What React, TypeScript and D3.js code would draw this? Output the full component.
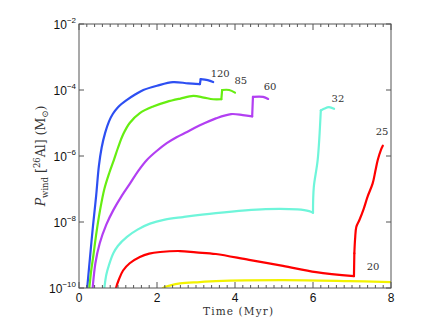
import React, { useEffect, useRef } from "react";
import * as d3 from "d3";

// [time (Myr), log10 of wind-ejected 26Al mass (Msun)].
// each track is a list of pieces; 2-point pieces are the sharp jumps
const m120 = [
  [[0.19, -10.3], [0.21, -10], [0.28, -9.1], [0.36, -8.1], [0.44, -7.2], [0.51, -6.3], [0.58, -5.75],
    [0.67, -5.3], [0.77, -4.95], [0.87, -4.72], [1.0, -4.52], [1.23, -4.3], [1.45, -4.13], [1.65, -4.0],
    [2.0, -3.87], [2.41, -3.76], [2.8, -3.8], [3.1, -3.82]],
  [[3.1, -3.82], [3.12, -3.67]],
  [[3.12, -3.67], [3.3, -3.7], [3.44, -3.76]],
];
const m85 = [
  [[0.24, -10.3], [0.265, -10], [0.31, -9.5], [0.37, -9.0], [0.45, -8.3], [0.54, -7.64], [0.65, -7.0],
    [0.78, -6.5], [0.9, -6.1], [1.0, -5.75], [1.13, -5.35], [1.3, -5.0], [1.56, -4.7], [1.9, -4.5],
    [2.25, -4.36], [2.6, -4.26], [2.93, -4.18], [3.2, -4.23], [3.44, -4.28], [3.65, -4.28]],
  [[3.65, -4.28], [3.67, -4.0]],
  [[3.67, -4.0], [3.85, -4.0], [4.0, -4.08]],
];
const m60 = [
  [[0.33, -10.3], [0.35, -10], [0.42, -9.25], [0.53, -8.65], [0.7, -8.08], [0.88, -7.64], [1.1, -7.2],
    [1.31, -6.83], [1.52, -6.45], [1.74, -6.12], [2.0, -5.84], [2.25, -5.61], [2.5, -5.43],
    [2.77, -5.27], [3.1, -5.07], [3.51, -4.86], [3.9, -4.73], [4.2, -4.76], [4.44, -4.8]],
  [[4.44, -4.8], [4.46, -4.21]],
  [[4.46, -4.21], [4.72, -4.21], [4.85, -4.27]],
];
const m32 = [
  [[0.62, -10.3], [0.65, -10], [0.7, -9.6], [0.77, -9.3], [0.88, -8.95], [1.0, -8.72], [1.23, -8.45],
    [1.5, -8.23], [1.82, -8.05], [2.2, -7.93], [2.67, -7.85], [3.51, -7.73], [4.79, -7.61],
    [5.6, -7.62], [5.9, -7.67], [6.0, -7.72]],
  [[6.0, -7.72], [6.02, -6.95], [6.12, -6.12], [6.2, -4.62]],
  [[6.2, -4.62], [6.28, -4.57], [6.41, -4.52], [6.54, -4.57]],
];
const m25 = [
  [[0.92, -10.3], [0.95, -10], [1.02, -9.75], [1.13, -9.47], [1.3, -9.25], [1.56, -9.06], [1.8, -8.96],
    [2.08, -8.91], [2.59, -8.88], [3.0, -8.92], [3.51, -8.97], [4.36, -9.15], [5.23, -9.33],
    [6.08, -9.52], [7.05, -9.64]],
  [[7.05, -9.64], [7.06, -8.95]],
  [[7.06, -8.95], [7.08, -8.5], [7.11, -8.15], [7.19, -7.94], [7.3, -7.6], [7.4, -7.23], [7.53, -6.83],
    [7.6, -6.45], [7.66, -6.12], [7.74, -5.82], [7.79, -5.69]],
];
const m20 = [
  [[2.1, -10.1], [2.15, -10], [2.35, -9.92], [2.59, -9.86], [3.1, -9.82], [3.51, -9.79], [5.23, -9.76],
    [6.92, -9.79], [8.0, -9.82]],
];

const series = [
  { label: "120", color: "#2d4ff2", pieces: m120, lab: [3.62, -3.6] },
  { label: "85", color: "#66ee11", pieces: m85, lab: [4.15, -3.82] },
  { label: "60", color: "#b23ff2", pieces: m60, lab: [4.9, -4.0] },
  { label: "32", color: "#6ff5da", pieces: m32, lab: [6.64, -4.36] },
  { label: "25", color: "#ff0000", pieces: m25, lab: [7.77, -5.36] },
  { label: "20", color: "#f2f200", pieces: m20, lab: [7.54, -9.45] },
];

const xTicks = [0, 2, 4, 6, 8];
const yTicks = [-2, -4, -6, -8, -10];

export default function App() {
  const ref = useRef<SVGSVGElement>(null);

  useEffect(() => {
    const svg = d3.select(ref.current);
    svg.selectAll("*").remove();
    const L = 79, R = 391, T = 24, B = 288;
    const x = d3.scaleLinear().domain([0, 8]).range([L, R]);
    const y = d3.scaleLog().domain([1e-10, 1e-2]).range([B, T]);

    svg.append("rect").attr("width", 432).attr("height", 325).attr("fill", "#fff");
    svg.append("clipPath").attr("id", "plotclip")
      .append("rect").attr("x", L).attr("y", T).attr("width", R - L).attr("height", B - T);

    const line = d3.line<number[]>()
      .x((d) => x(d[0]))
      .y((d) => y(Math.pow(10, d[1])))
      .curve(d3.curveCatmullRom.alpha(0.5));
    const g = svg.append("g").attr("clip-path", "url(#plotclip)");
    series.forEach((s) => {
      s.pieces.forEach((p) => {
        g.append("path").attr("d", line(p)).attr("fill", "none")
          .attr("stroke", s.color).attr("stroke-width", 2.2)
          .attr("stroke-linejoin", "round").attr("stroke-linecap", "round");
      });
    });

    // frame + ticks
    const ax = svg.append("g").attr("stroke", "#555").attr("stroke-width", 1);
    ax.append("rect").attr("x", L).attr("y", T).attr("width", R - L).attr("height", B - T).attr("fill", "none");
    d3.range(0, 8.001, 0.2).forEach((t) => {
      const major = xTicks.some((v) => Math.abs(v - t) < 1e-6);
      const len = major ? 6 : 3;
      ax.append("line").attr("x1", x(t)).attr("x2", x(t)).attr("y1", B).attr("y2", B - len);
      ax.append("line").attr("x1", x(t)).attr("x2", x(t)).attr("y1", T).attr("y2", T + len);
    });
    yTicks.forEach((e) => {
      const v = Math.pow(10, e);
      ax.append("line").attr("x1", L).attr("x2", L + 5).attr("y1", y(v)).attr("y2", y(v));
      ax.append("line").attr("x1", R).attr("x2", R - 5).attr("y1", y(v)).attr("y2", y(v));
    });

    const sans = "'Liberation Sans', Arial, sans-serif";
    const serif = "'DejaVu Serif', serif";

    xTicks.forEach((t) => {
      svg.append("text").attr("x", x(t)).attr("y", 302).attr("text-anchor", "middle")
        .attr("font-family", sans).attr("font-size", 12).attr("fill", "#111").text(t);
    });
    yTicks.forEach((e) => {
      const tx = svg.append("text").attr("x", 76).attr("y", y(Math.pow(10, e)) + 5).attr("text-anchor", "end")
        .attr("font-family", sans).attr("font-size", 12).attr("fill", "#111");
      tx.append("tspan").text("10");
      tx.append("tspan").attr("dy", -6).attr("font-size", 8).text("\u2212" + Math.abs(e));
    });

    svg.append("text").attr("x", (L + R) / 2 + 3).attr("y", 315).attr("text-anchor", "middle")
      .attr("font-family", serif).attr("font-size", 10.5).attr("fill", "#333")
      .attr("textLength", 70).text("Time (Myr)");

    const yl = svg.append("text").attr("transform", "translate(45,156) rotate(-90)")
      .attr("text-anchor", "middle").attr("font-family", serif).attr("font-size", 12.5).attr("fill", "#333");
    yl.append("tspan").attr("font-style", "italic").text("P");
    yl.append("tspan").attr("font-size", 8.5).attr("dy", 3).text("wind");
    yl.append("tspan").attr("dy", -3).text(" [");
    yl.append("tspan").attr("font-size", 8.5).attr("dy", -5).text("26");
    yl.append("tspan").attr("dy", 5).text("Al] (M");
    yl.append("tspan").attr("font-size", 8.5).attr("dy", 3).text("\u2299");
    yl.append("tspan").attr("dy", -3).text(")");

    series.forEach((s) => {
      svg.append("text").attr("x", x(s.lab[0])).attr("y", y(Math.pow(10, s.lab[1]))).attr("text-anchor", "middle")
        .attr("font-family", serif).attr("font-size", 10).attr("fill", "#333").text(s.label);
    });
  }, []);

  return (
    <svg ref={ref} width={432} height={325}
      style={{ position: "absolute", left: 0, top: 0, display: "block" }} />
  );
}
